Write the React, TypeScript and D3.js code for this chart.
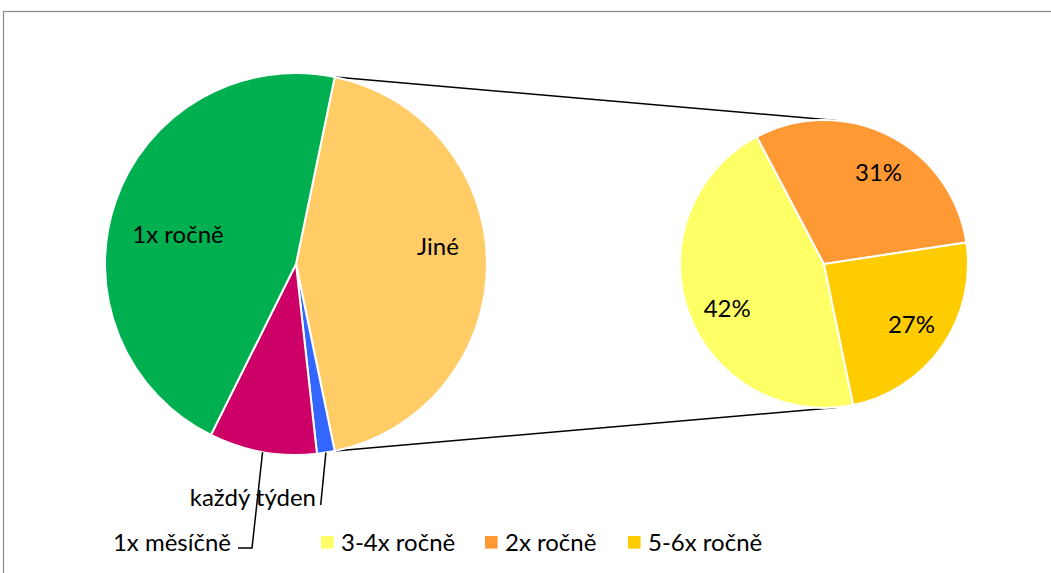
import React from "react";
import * as d3 from "d3";

const mainCategories = ["1x ročně", "1x měsíčně", "každý týden"];
const mainValues = [45.9, 9.1, 1.5];
const otherLabel = "Jiné";
const subCategories = ["3-4x ročně", "2x ročně", "5-6x ročně"];
const subValues = [19.8, 13.2, 10.5];
const subLabels = ["42%", "31%", "27%"];

const mainColors: Record<string, string> = {
  "1x ročně": "#00B050",
  "1x měsíčně": "#CC0066",
  "každý týden": "#3366FF",
  "Jiné": "#FFCC66",
};
const subColors = ["#FFFF66", "#FF9933", "#FFCC00"];

const W = 1051;
const H = 573;
const FONT = "Lato, 'Open Sans', sans-serif";
const FS = 24;

export default function App() {
  const deg = Math.PI / 180;
  const mc = { x: 296, y: 264 };
  const mr = 191;
  const sc = { x: 824, y: 264 };
  const sr = 144;

  const otherValue = d3.sum(subValues);
  const total = d3.sum(mainValues) + otherValue;
  const otherAngle = (otherValue / total) * 2 * Math.PI;
  const mainStart = Math.PI / 2 - otherAngle / 2;

  // order clockwise from the "other" slice
  const mainData = [
    { name: otherLabel, value: otherValue },
    { name: mainCategories[2], value: mainValues[2] },
    { name: mainCategories[1], value: mainValues[1] },
    { name: mainCategories[0], value: mainValues[0] },
  ];
  const mainPie = d3
    .pie<any>()
    .sort(null)
    .value((d) => d.value)
    .startAngle(mainStart)
    .endAngle(mainStart + 2 * Math.PI);
  const mainArcs = mainPie(mainData);
  const mainArc = d3.arc<any>().innerRadius(0).outerRadius(mr);

  const subStart = 168.3 * deg;
  const subData = subCategories.map((c, i) => ({ name: c, value: subValues[i], label: subLabels[i], color: subColors[i] }));
  const subPie = d3
    .pie<any>()
    .sort(null)
    .value((d) => d.value)
    .startAngle(subStart)
    .endAngle(subStart + 2 * Math.PI);
  const subArcs = subPie(subData);
  const subArc = d3.arc<any>().innerRadius(0).outerRadius(sr);

  const polar = (c: { x: number; y: number }, r: number, a: number) => ({
    x: c.x + r * Math.sin(a),
    y: c.y - r * Math.cos(a),
  });

  // connector lines (tangents)
  const otherArc = mainArcs[0];
  const p1 = polar(mc, mr, otherArc.startAngle);
  const p2 = polar(mc, mr, otherArc.endAngle);
  const tangent = (p: { x: number; y: number }, sign: number) => {
    const dx = p.x - sc.x;
    const dy = p.y - sc.y;
    const d = Math.hypot(dx, dy);
    const th = Math.atan2(dy, dx);
    const al = Math.acos(sr / d);
    const t = th + sign * al;
    return { x: sc.x + sr * Math.cos(t), y: sc.y + sr * Math.sin(t) };
  };
  const t1 = tangent(p1, 1);
  const t2 = tangent(p2, -1);

  const byName = (n: string) => mainArcs.find((a) => a.data.name === n)!;
  const mid = (a: any) => (a.startAngle + a.endAngle) / 2;

  const rocne = byName(mainCategories[0]);
  const mesicne = byName(mainCategories[1]);
  const tyden = byName(mainCategories[2]);

  const rocneLabel = { x: 178, y: 235 };
  const jineLabel = { x: 438, y: 247 };

  const mesStart = polar(mc, mr, mid(mesicne));
  const tydStart = polar(mc, mr, mid(tyden));

  const legendX = [321, 485, 628];

  return (
    <svg
      width={W}
      height={H}
      style={{ position: "absolute", left: 0, top: 0, background: "#fff" }}
      fontFamily={FONT}
    >
      <rect x={3.5} y={11.5} width={W + 20} height={H + 20} fill="#fff" stroke="#898989" strokeWidth={1.2} />

      {/* connectors */}
      <line x1={p1.x} y1={p1.y} x2={t1.x} y2={t1.y} stroke="#000" strokeWidth={1.5} />
      <line x1={p2.x} y1={p2.y} x2={t2.x} y2={t2.y} stroke="#000" strokeWidth={1.5} />

      {/* main pie */}
      <g transform={`translate(${mc.x},${mc.y})`}>
        {mainArcs.map((a, i) => (
          <path key={i} d={mainArc(a)!} fill={mainColors[a.data.name]} stroke="#fff" strokeWidth={2} />
        ))}
      </g>

      {/* secondary pie */}
      <g transform={`translate(${sc.x},${sc.y})`}>
        {subArcs.map((a, i) => (
          <path key={i} d={subArc(a)!} fill={a.data.color} stroke="#fff" strokeWidth={2} />
        ))}
      </g>

      {/* main labels */}
      <text x={rocneLabel.x} y={rocneLabel.y} dy="0.35em" textAnchor="middle" fontSize={FS} fill="#000">
        {rocne.data.name}
      </text>
      <text x={jineLabel.x} y={jineLabel.y} dy="0.35em" textAnchor="middle" fontSize={FS} fill="#000">
        {otherLabel}
      </text>

      {/* leader lines */}
      <polyline
        points={`${mesStart.x},${mesStart.y} 252,548 238,548`}
        fill="none"
        stroke="#000"
        strokeWidth={1.5}
      />
      <line x1={tydStart.x} y1={tydStart.y} x2={320.7} y2={505} stroke="#000" strokeWidth={1.5} />
      <text x={231} y={543} dy="0.35em" textAnchor="end" fontSize={FS} fill="#000">
        {mesicne.data.name}
      </text>
      <text x={316} y={498} dy="0.35em" textAnchor="end" fontSize={FS} fill="#000">
        {tyden.data.name}
      </text>

      {/* secondary labels */}
      {subArcs.map((a, i) => {
        const p = polar(sc, sr * 0.74, mid(a) + (i === 1 ? 4 * deg : i === 0 ? -5 * deg : 0));
        return (
          <text key={i} x={p.x} y={p.y} dy="0.35em" textAnchor="middle" fontSize={FS} fill="#000">
            {a.data.label}
          </text>
        );
      })}

      {/* legend */}
      {subCategories.map((c, i) => (
        <g key={c}>
          <rect x={legendX[i]} y={536} width={12.6} height={12.6} fill={subColors[i]} />
          <text x={legendX[i] + 20} y={542.3} dy="0.35em" fontSize={FS} fill="#000">
            {c}
          </text>
        </g>
      ))}
    </svg>
  );
}
